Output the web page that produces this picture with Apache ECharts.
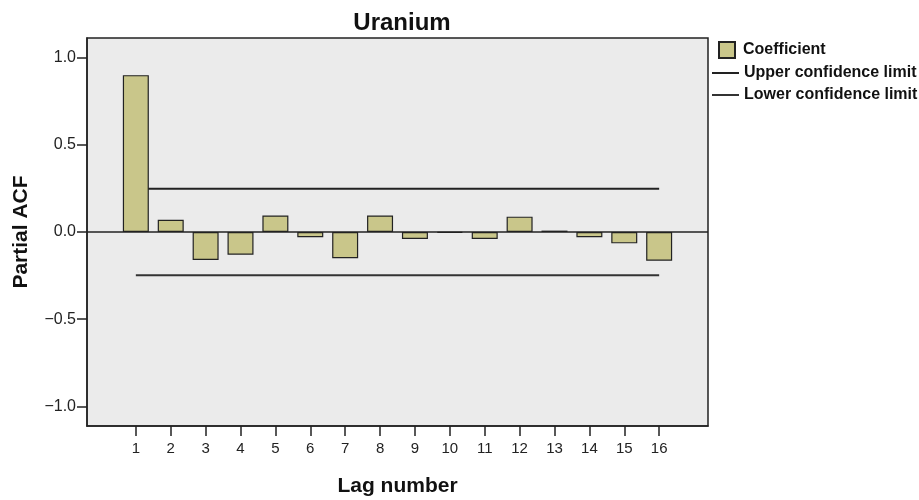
<!DOCTYPE html>
<html>
<head>
<meta charset="utf-8">
<script src="https://cdn.jsdelivr.net/npm/echarts@6/dist/echarts.min.js"></script>
<style>
  html, body { margin: 0; padding: 0; background: #fff; }
  #chart { width: 919px; height: 500px; }
</style>
</head>
<body>
<div id="chart"></div>
<script>
// lag numbers on the x axis
var lags = [1, 2, 3, 4, 5, 6, 7, 8, 9, 10, 11, 12, 13, 14, 15, 16];
// partial ACF coefficient per lag
var coefficients = [0.90, 0.07, -0.16, -0.13, 0.095, -0.03, -0.15, 0.095, -0.04, -0.005, -0.04, 0.088, 0.008, -0.03, -0.065, -0.165];
// confidence limits (constant across lags)
var upperLimit = 0.248;
var lowerLimit = -0.248;
// y tick labels
var yTicks = [-1, -0.5, 0, 0.5, 1];

var font = 'Liberation Sans, Arial, sans-serif';

var chart = echarts.init(document.getElementById('chart'));

var barData = [];
for (var i = 0; i < lags.length; i++) {
	barData.push([lags[i], coefficients[i]]);
}
var first = lags[0], last = lags[lags.length - 1];

var option = {
	backgroundColor: '#ffffff',
	animation: false,
	title: {
		text: 'Uranium',
		left: 397,
		top: 6,
		textAlign: 'center',
		textStyle: { fontFamily: font, fontSize: 24, fontWeight: 'bold', color: '#111' }
	},
	legend: [{
		data: ['Coefficient'],
		left: 718,
		top: 41,
		padding: 0,
		itemWidth: 16,
		itemHeight: 16,
		icon: 'rect',
		textStyle: { fontFamily: font, fontSize: 16, fontWeight: 'bold', color: '#111', padding: [0, 0, 0, 3] }
	}, {
		data: ['Upper confidence limit', 'Lower confidence limit'],
		orient: 'vertical',
		left: 712,
		top: 64,
		padding: 0,
		itemWidth: 27,
		itemHeight: 2,
		itemGap: 4,
		icon: 'rect',
		textStyle: { fontFamily: font, fontSize: 16, fontWeight: 'bold', color: '#111', lineHeight: 18 }
	}],
	grid: {
		left: 87,
		right: 211,
		top: 38,
		bottom: 74,
		outerBoundsMode: 'none',
		show: true,
		backgroundColor: '#ebebeb',
		borderColor: '#222',
		borderWidth: 1.5
	},
	xAxis: {
		type: 'value',
		min: -0.4,
		max: 17.4,
		name: 'Lag number',
		nameLocation: 'middle',
		nameGap: 50,
		nameTextStyle: { fontFamily: font, fontSize: 21, fontWeight: 'bold', color: '#111' },
		axisLine: { show: true, onZero: false, lineStyle: { color: '#222', width: 1.5 } },
		axisTick: { show: true, length: 10, customValues: lags, lineStyle: { color: '#222', width: 1.5 } },
		axisLabel: { customValues: lags, margin: 15, fontFamily: font, fontSize: 15, color: '#222' },
		splitLine: { show: false }
	},
	yAxis: {
		type: 'value',
		min: -1.113,
		max: 1.113,
		name: 'Partial ACF',
		nameLocation: 'middle',
		nameGap: 55,
		nameTextStyle: { fontFamily: font, fontSize: 21, fontWeight: 'bold', color: '#111' },
		axisLine: { show: true, onZero: false, lineStyle: { color: '#222', width: 1.5 } },
		axisTick: { show: true, length: 10, customValues: yTicks, lineStyle: { color: '#222', width: 1.5 } },
		axisLabel: {
			customValues: yTicks,
			margin: 11,
			fontFamily: font,
			fontSize: 16,
			color: '#222',
			formatter: function (v) { return v.toFixed(1).replace('-', '\u2212'); }
		},
		splitLine: { show: false }
	},
	series: [{
		name: 'Coefficient',
		type: 'bar',
		data: barData,
		barWidth: 26,
		itemStyle: { color: '#c9c68a', borderColor: '#222', borderWidth: 1.2 },
		markLine: {
			silent: true,
			symbol: 'none',
			label: { show: false },
			lineStyle: { color: '#222', width: 1.5, type: 'solid' },
			data: [{ yAxis: 0 }]
		},
		z: 3
	}, {
		name: 'Upper confidence limit',
		type: 'line',
		data: [[first, upperLimit], [last, upperLimit]],
		symbol: 'none',
		color: '#222',
		lineStyle: { color: '#222', width: 2 },
		z: 2
	}, {
		name: 'Lower confidence limit',
		type: 'line',
		data: [[first, lowerLimit], [last, lowerLimit]],
		symbol: 'none',
		color: '#333',
		lineStyle: { color: '#333', width: 2 },
		z: 2
	}]
};

chart.setOption(option);
</script>
</body>
</html>
